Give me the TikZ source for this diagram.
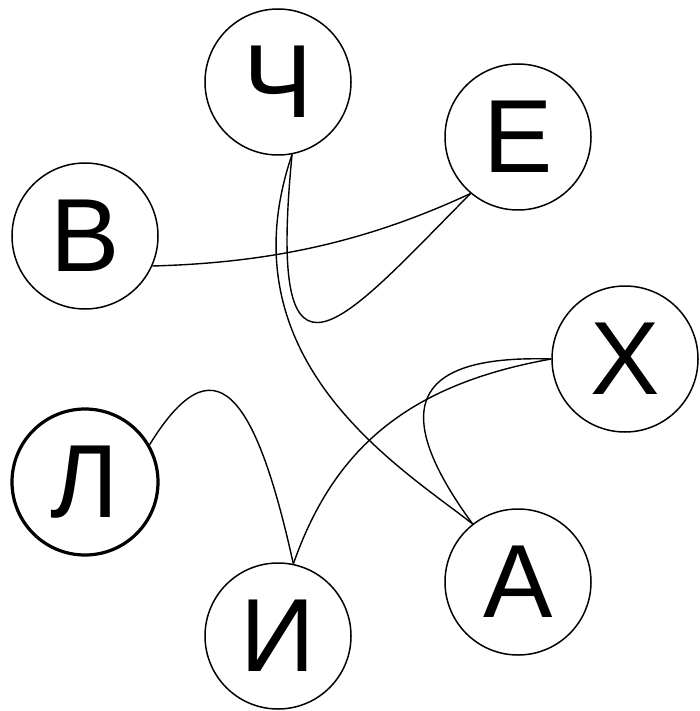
\documentclass[tikz,border=0pt]{standalone}
\usepackage{fontspec}
\setmainfont{Liberation Sans}
\begin{document}
\begin{tikzpicture}[x=1pt,y=-1pt,
  vertex/.style={circle,draw,line width=1.5pt,minimum size=146pt,inner sep=0pt,
    font=\fontsize{104}{104}\selectfont},
  boldvertex/.style={vertex,line width=3.2pt},
  edge/.style={line width=1.4pt}]
\useasboundingbox (0,0) rectangle (699,711);
\node[vertex] (CH) at (278,82) {Ч};
\node[vertex] (E) at (518,137) {Е};
\node[vertex] (V) at (85,236) {В};
\node[vertex] (KH) at (625,359) {Х};
\node[boldvertex] (L) at (85,482) {Л};
\node[vertex] (A) at (518,582) {А};
\node[vertex] (I) at (278,636) {И};
\draw[edge] (CH.-79) .. controls (222,360) and (400,467) .. (A.128);
\draw[edge] (CH.-79) .. controls (266,420) and (343,322) .. (E.230);
\draw[edge] (V.-24) .. controls (262,263) and (360,245) .. (E.230);
\draw[edge] (KH.180) .. controls (422,355) and (382,400) .. (A.128);
\draw[edge] (I.78) .. controls (333,451) and (405,385) .. (KH.180);
\draw[edge] (L.30) .. controls (214,340) and (255,390) .. (I.78);
\end{tikzpicture}
\end{document}
